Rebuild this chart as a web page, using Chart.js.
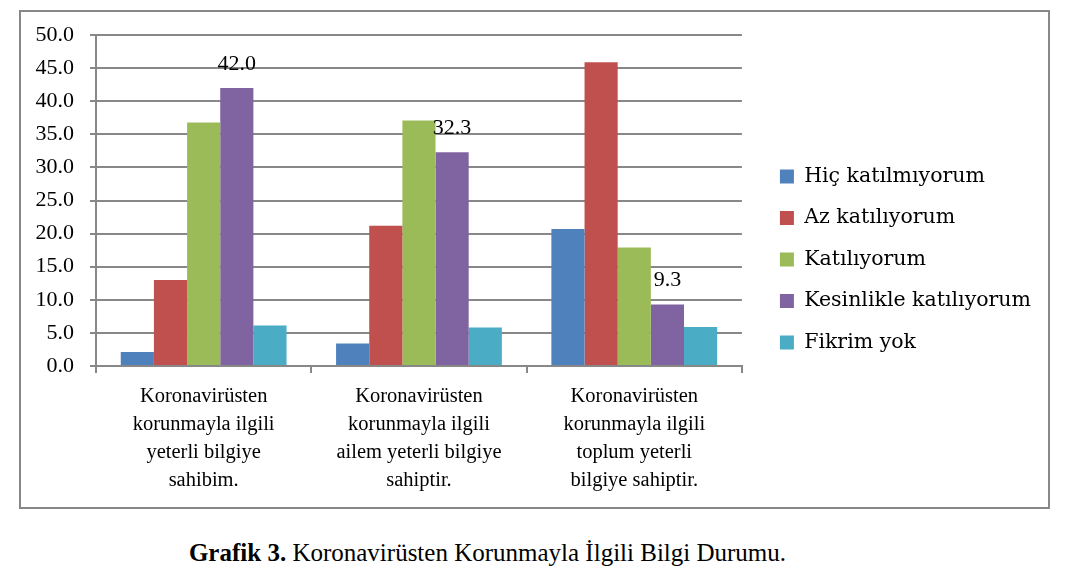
<!DOCTYPE html>
<html>
<head>
<meta charset="utf-8">
<script src="https://cdn.jsdelivr.net/npm/chart.js@4/dist/chart.umd.min.js"></script>
<style>
body { margin: 0; background: #fff; }
#box {
    position: absolute; left: 19px; top: 10px;
    width: 1031px; height: 499px;
    box-sizing: border-box; border: 2px solid #888;
}
#wrap { position: relative; width: 100%; height: 100%; }
#caption {
    position: absolute; left: 0; width: 975px; top: 539px;
    text-align: center; font-family: "Liberation Serif", serif; font-size: 25px; color: #000;
}
</style>
</head>
<body>
<div id="box"><div id="wrap"><canvas id="myChart"></canvas></div></div>
<div id="caption"><b>Grafik 3.</b> Koronavirüsten Korunmayla İlgili Bilgi Durumu.</div>
<script>
labels = [
    ['Koronavirüsten', 'korunmayla ilgili', 'yeterli bilgiye', 'sahibim.'],
    ['Koronavirüsten', 'korunmayla ilgili', 'ailem yeterli bilgiye', 'sahiptir.'],
    ['Koronavirüsten', 'korunmayla ilgili', 'toplum yeterli', 'bilgiye sahiptir.']
];
series_names = ['Hiç katılmıyorum', 'Az katılıyorum', 'Katılıyorum', 'Kesinlikle katılıyorum', 'Fikrim yok'];
hic = [2.1, 3.4, 20.7];
az = [13.0, 21.2, 45.9];
katiliyorum = [36.8, 37.1, 17.9];
kesinlikle = [42.0, 32.3, 9.3];
fikrim_yok = [6.1, 5.8, 5.9];
y_ticks = [0, 5, 10, 15, 20, 25, 30, 35, 40, 45, 50];

var colors = ['#4f81bd', '#c0504d', '#9bbb59', '#8064a2', '#4bacc6'];
var values = [hic, az, katiliyorum, kesinlikle, fikrim_yok];
var serif = '"Liberation Serif", serif';
Chart.defaults.font.family = serif;
Chart.defaults.color = '#000';

// only the "Kesinlikle" bars carry a value label
var valueLabels = {
    id: 'valueLabels',
    afterDatasetsDraw: function (chart) {
        var ctx = chart.ctx;
        var meta = chart.getDatasetMeta(3);
        ctx.save();
        ctx.font = '22px ' + serif;
        ctx.fillStyle = '#000';
        ctx.textAlign = 'center';
        ctx.textBaseline = 'middle';
        meta.data.forEach(function (bar, i) {
            ctx.fillText(kesinlikle[i].toFixed(1), bar.x, bar.y - 24);
        });
        ctx.restore();
    }
};

var datasets = [];
for (var i = 0; i < series_names.length; i++) {
    datasets.push({
        label: series_names[i],
        data: values[i],
        backgroundColor: colors[i],
        borderWidth: 0,
        barPercentage: 1,
        categoryPercentage: 0.77
    });
}

var ctx = document.getElementById('myChart').getContext('2d');
var myChart = new Chart(ctx, {
    type: 'bar',
    data: { labels: labels, datasets: datasets },
    plugins: [valueLabels],
    options: {
        responsive: true,
        maintainAspectRatio: false,
        animation: false,
        layout: { padding: { top: 0, left: 0, bottom: 0, right: 7 } },
        plugins: {
            tooltip: { enabled: false },
            legend: {
                position: 'right',
                maxWidth: 400,
                labels: {
                    boxWidth: 14,
                    boxHeight: 14,
                    padding: 21,
                    color: '#000',
                    font: { family: '"DejaVu Serif", serif', size: 20.5 }
                }
            }
        },
        scales: {
            x: {
                grid: { drawOnChartArea: false, color: '#888', lineWidth: 2, tickLength: 7 },
                border: { color: '#888', width: 2 },
                ticks: { color: '#000', padding: 9, maxRotation: 0, autoSkip: false,
                    font: { family: serif, size: 20.5, lineHeight: 1.38 } },
                afterFit: function (s) { s.height = 141; }
            },
            y: {
                min: 0, max: 50,
                afterBuildTicks: function (s) { s.ticks = y_ticks.map(function (v) { return { value: v }; }); },
                grid: { color: '#888', lineWidth: 2, tickLength: 6 },
                border: { color: '#888', width: 2 },
                ticks: { color: '#000', padding: 16, font: { family: serif, size: 22 },
                    callback: function (v) { return v.toFixed(1); } },
                afterFit: function (s) { s.width = 75; s.paddingTop = 23; s.paddingBottom = 0; }
            },
            spacer: {
                position: 'right',
                display: true,
                grid: { display: false },
                border: { display: false },
                ticks: { display: false },
                afterFit: function (s) { s.width = 17; }
            }
        }
    }
});
</script>
</body>
</html>
